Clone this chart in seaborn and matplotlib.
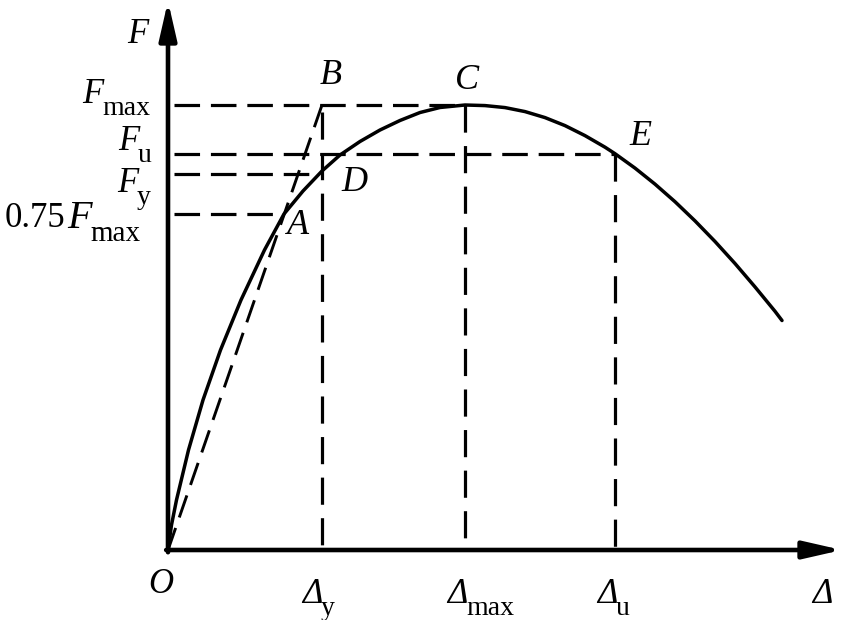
import numpy as np
import pandas as pd
import seaborn as sns
import matplotlib.pyplot as plt

# Load-displacement curve (Δ in units of Δy, F in units of Fmax)
curve_d = [0.0, 0.0227, 0.0552, 0.1331, 0.2273, 0.3409, 0.4740, 0.6266, 0.7532, 0.8766,
           1.0, 1.1169, 1.2468, 1.3766, 1.5065, 1.6364, 1.7662, 1.9286, 2.0584, 2.1883,
           2.3182, 2.4481, 2.5779, 2.7078, 2.8377, 2.9026, 3.0325, 3.1623, 3.2922, 3.4221,
           3.5519, 3.6818, 3.8117, 3.9416, 3.9870]
curve_f = [0.0, 0.0562, 0.1124, 0.2247, 0.3371, 0.4494, 0.5618, 0.6742, 0.7551, 0.8067,
           0.8517, 0.8876, 0.9180, 0.9438, 0.9652, 0.9831, 0.9944, 1.0, 0.9987, 0.9942,
           0.9852, 0.9717, 0.9537, 0.9312, 0.9052, 0.8906, 0.8582, 0.8222, 0.7827, 0.7396,
           0.6933, 0.6438, 0.5912, 0.5364, 0.5157]

# secant line O -> B
secant_d = [0.0, 1.0]
secant_f = [0.0, 1.0]

# characteristic points
pt_names = ['A', 'B', 'C', 'D', 'E']
pt_d = [0.753, 1.0, 1.929, 1.0, 2.90]
pt_f = [0.755, 1.0, 1.0, 0.852, 0.89]

# reference levels on the F axis and the Δ axis
f_levels = [1.0, 0.89, 0.845, 0.755]
f_ends = [1.929, 2.90, 0.95, 0.753]
d_levels = [1.0, 1.929, 2.90]
d_tops = [0.985, 1.0, 0.89]

sns.set_style('white')
plt.rcParams['font.family'] = ['Liberation Serif', 'DejaVu Serif']
plt.rcParams['text.color'] = 'black'

fig = plt.figure(figsize=(8.5, 6.2), dpi=100)
ax = fig.add_axes([0, 0, 1, 1])
# origin at (168px, 550px); 154 px per Δy, 445 px per Fmax
ax.set_xlim(-168 / 154, 682 / 154)
ax.set_ylim(-70 / 445, 550 / 445)
ax.axis('off')

k = 'black'
hdash = (0, (8, 3.4))
vdash = (0, (8.5, 4.2))

# axes with arrow heads
arrow = dict(arrowstyle='-|>,head_length=1.05,head_width=0.24',
             lw=3.3, color=k, mutation_scale=22, shrinkA=0, shrinkB=0)
ax.annotate('', xy=(0, 549 / 445), xytext=(0, -0.005), arrowprops=arrow)
ax.annotate('', xy=(674 / 154, 0), xytext=(-0.012, 0), arrowprops=arrow)

# dashed guide lines
for lvl, end in zip(f_levels, f_ends):
    ax.plot([0.04, end], [lvl, lvl], color=k, lw=2.3, linestyle=hdash)
for lvl, top in zip(d_levels, d_tops):
    ax.plot([lvl, lvl], [top, 0], color=k, lw=2.3, linestyle=vdash)

# secant and curve
sns.lineplot(x=secant_d, y=secant_f, ax=ax, color=k, lw=2.1, linestyle=(0, (8, 3.8)), sort=False)
sns.lineplot(x=curve_d, y=curve_f, ax=ax, color=k, lw=2.5, sort=False)


def chain(x, y, parts):
    # parts: (text, style, size, dx, dy) ; first part anchored at (x, y) baseline
    txt, style, size, _, _ = parts[0]
    prev = ax.text(x, y, txt, fontstyle=style, fontsize=size, ha='left', va='baseline')
    for txt, style, size, dx, dy in parts[1:]:
        prev = ax.annotate(txt, xy=(1, 0), xycoords=prev, xytext=(dx, dy),
                           textcoords='offset points', ha='left', va='bottom',
                           fontstyle=style, fontsize=size)


fs, fsub = 25, 20
# F-axis labels
chain(-0.556, 1.0045, [('F', 'italic', fs, 0, 0), ('max', 'normal', fsub, -1, -7)])
chain(-0.325, 0.899, [('F', 'italic', fs, 0, 0), ('u', 'normal', fsub, -1, -7)])
chain(-0.331, 0.804, [('F', 'italic', fs, 0, 0), ('y', 'normal', fsub, -1, -7)])
chain(-1.06, 0.726, [('0.75', 'normal', fs, 0, 0), ('F', 'italic', 29, 1, -1.5),
                     ('max', 'normal', 21, -1, -7)])
ax.text(-0.266, 1.139, 'F', fontstyle='italic', fontsize=fs, ha='left', va='baseline')

# Δ-axis labels
chain((302 - 168) / 154, -0.119, [('Δ', 'italic', fs, 0, 0), ('y', 'normal', fsub, -1, -7)])
chain((447 - 168) / 154, -0.119, [('Δ', 'italic', fs, 0, 0), ('max', 'normal', fsub, -1, -7)])
chain((597 - 168) / 154, -0.119, [('Δ', 'italic', fs, 0, 0), ('u', 'normal', fsub, -1, -7)])
ax.text((812 - 168) / 154, -0.119, 'Δ', fontstyle='italic', fontsize=fs, ha='left', va='baseline')
ax.text(-0.13, -0.097, 'O', fontstyle='italic', fontsize=fs, ha='left', va='baseline')

# point labels
label_pos = {'A': (0.844, 0.730), 'B': (1.058, 1.067), 'C': (1.942, 1.056),
             'D': (1.208, 0.825), 'E': (3.071, 0.930)}
for n in pt_names:
    lx, ly = label_pos[n]
    ax.text(lx, ly, n, fontstyle='italic', fontsize=26, ha='center', va='center')

fig.savefig('out.png', dpi=100)
